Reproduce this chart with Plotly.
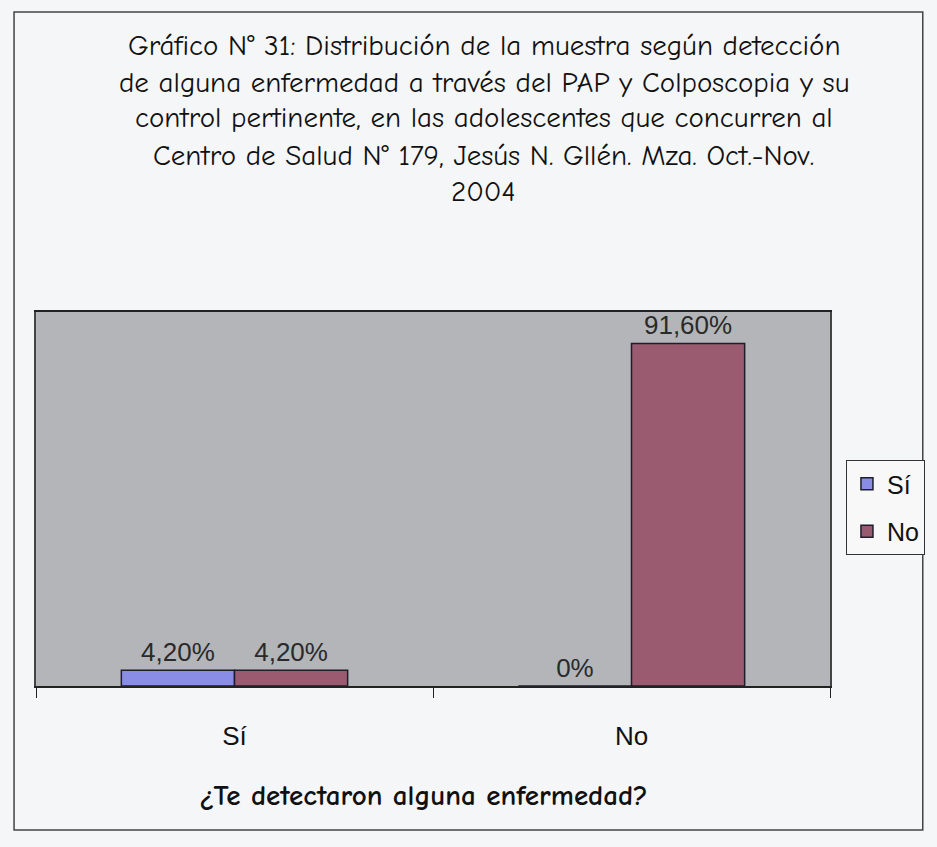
import plotly.graph_objects as go

# Survey answers: "¿Te detectaron alguna enfermedad?"
categories = ["Sí", "No"]
series_names = ["Sí", "No"]
values_si = [4.2, 0.0]
values_no = [4.2, 91.6]
series_colors = ["#8a8de6", "#9a5a70"]

title_lines = [
    "Gráfico N° 31: Distribución de la muestra según detección",
    "de alguna enfermedad a través del PAP y Colposcopia y su",
    "control pertinente, en las adolescentes que concurren al",
    "Centro de Salud N° 179, Jesús N. Gllén. Mza. Oct.-Nov.",
    "2004",
]
x_title = "¿Te detectaron alguna enfermedad?"


def pct_label(v):
    if v == 0:
        return "0%"
    return f"{v:.2f}".replace(".", ",") + "%"


W, H = 937, 847
L, R, T, B = 36, 105, 312, 161
plot_w = W - L - R
plot_h = H - T - B


def px_to_paper_x(px):
    return (px - L) / plot_w


def px_to_paper_y(py):
    return (H - B - py) / plot_h


fig = go.Figure()
for name, vals, col in zip(series_names, [values_si, values_no], series_colors):
    fig.add_trace(go.Bar(
        x=categories, y=vals, name=name, legendgroup=name,
        marker=dict(color=col, line=dict(color="#1e1e2a", width=1.5)),
        text=[pct_label(v) for v in vals],
        textposition="outside",
        textfont=dict(family="Liberation Sans, Arial", size=26, color="#2a2a2a"),
        cliponaxis=False,
    ))

hand_font = "Comic Sans MS, Comic Neue, Lato"
annotations = []
line_y = [45, 82, 118, 155, 191]
for txt, yy in zip(title_lines, line_y):
    annotations.append(dict(
        text=txt, x=px_to_paper_x(485), y=px_to_paper_y(yy),
        xref="paper", yref="paper", xanchor="center", yanchor="middle",
        showarrow=False, font=dict(family=hand_font, size=29, color="#111"),
    ))
annotations.append(dict(
    text="<b>" + x_title + "</b>", x=px_to_paper_x(424), y=px_to_paper_y(795),
    xref="paper", yref="paper", xanchor="center", yanchor="middle",
    showarrow=False, font=dict(family=hand_font, size=29, color="#111"),
))

fig.update_layout(
    width=W, height=H,
    margin=dict(l=L, r=R, t=T, b=B),
    paper_bgcolor="#f5f6f8",
    plot_bgcolor="#b3b5b8",
    barmode="group",
    bargap=0.43,
    bargroupgap=0,
    separators=",.",
    showlegend=True,
    legend=dict(
        x=px_to_paper_x(848), y=px_to_paper_y(460),
        xanchor="left", yanchor="top",
        bgcolor="#f8f8f8", bordercolor="#333", borderwidth=1,
        font=dict(family="Liberation Sans, Arial", size=25, color="#111"),
        tracegroupgap=12,
        itemwidth=30,
    ),
    annotations=annotations,
    shapes=[dict(
        type="rect", xref="paper", yref="paper",
        x0=px_to_paper_x(14), x1=px_to_paper_x(925),
        y0=px_to_paper_y(830), y1=px_to_paper_y(12),
        line=dict(color="#444", width=1.5), layer="below",
    )],
)

fig.update_xaxes(
    showline=True, linecolor="#222", linewidth=1.5, mirror=True,
    ticks="outside", tickson="boundaries", ticklen=10, tickcolor="#222",
    ticklabelstandoff=26,
    tickfont=dict(family="Liberation Sans, Arial", size=26, color="#111"),
    showgrid=False,
)
fig.update_yaxes(
    range=[0, 100], showticklabels=False, showgrid=False, zeroline=False,
    showline=True, linecolor="#444", linewidth=1.5, mirror=True, ticks="",
)

fig.write_html("out.html")
